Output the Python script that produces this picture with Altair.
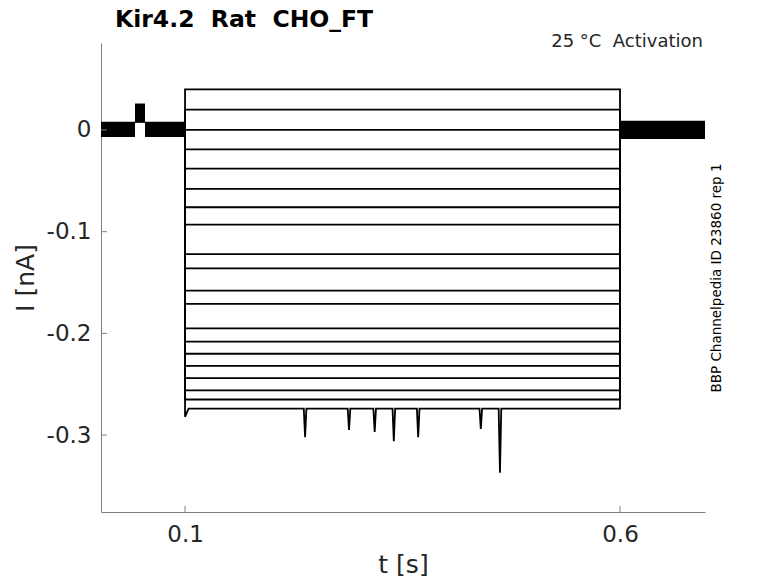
import altair as alt
import pandas as pd

# ---- data ----
T0, T1 = 0.0034, 0.6977
step_on, step_off = 0.1, 0.6
levels = [0.040, 0.020, 0.000, -0.019, -0.038, -0.058, -0.076, -0.093,
          -0.122, -0.136, -0.158, -0.171, -0.195, -0.208, -0.220, -0.232,
          -0.244, -0.256, -0.265, -0.274]
# extra features of the lowest trace (initial transient and dips)
low_t = [0.1, 0.104, 0.238, 0.2885, 0.318, 0.340, 0.368, 0.440, 0.462]
low_v = [-0.282, -0.274, -0.302, -0.295, -0.297, -0.306, -0.302, -0.294, -0.337]
# baseline noise envelope pieces (before and after the step)
band_t0 = [T0, 0.0425, 0.054, 0.6]
band_t1 = [0.0425, 0.054, 0.1, T1]
band_lo = [-0.007, 0.007, -0.007, -0.009]
band_hi = [0.008, 0.026, 0.008, 0.009]
xticks = [0.1, 0.6]
yticks = [0.0, -0.1, -0.2, -0.3]

rows = []
for i, L in enumerate(levels):
    pts = [(step_on, 0.0)]
    if i == len(levels) - 1:
        pts.append((low_t[0], low_v[0]))
        pts.append((low_t[1], L))
        for t, v in zip(low_t[2:], low_v[2:]):
            pts += [(t - 0.0015, L), (t, v), (t + 0.0015, L)]
    else:
        pts.append((step_on, L))
    pts += [(step_off, L), (step_off, 0.0)]
    for k, (t, v) in enumerate(pts):
        rows.append({"trace": i, "k": k, "t": t, "I": v})
traces = pd.DataFrame(rows)
band = pd.DataFrame({"a": band_t0, "b": band_t1, "lo": band_lo, "hi": band_hi})

xs = alt.Scale(domain=[T0, T1], nice=False, zero=False)
ys = alt.Scale(domain=[-0.3756, 0.0855], nice=False, zero=False)
GRAY = "#808080"
FONT = "DejaVu Sans"
NB = "\u00a0"

lines = alt.Chart(traces).mark_line(color="black", strokeWidth=1.8).encode(
    x=alt.X("t:Q", scale=xs,
            axis=alt.Axis(values=xticks, title="t [s]", tickSize=0,
                          labelPadding=11, titlePadding=6, grid=False,
                          format=".1f")),
    y=alt.Y("I:Q", scale=ys,
            axis=alt.Axis(values=yticks, title="I [nA]", tickSize=0,
                          labelPadding=10, titlePadding=8, grid=False,
                          labelExpr="datum.value == 0 ? '0' : replace(format(datum.value, '.1f'), '\u2212', '-')")),
    detail="trace:N",
    order="k:Q",
)

bands = alt.Chart(band).mark_rect(color="black").encode(
    x=alt.X("a:Q", scale=xs), x2="b:Q",
    y=alt.Y("lo:Q", scale=ys), y2="hi:Q",
)

xt = alt.Chart(pd.DataFrame({"v": xticks})).mark_rule(color=GRAY, strokeWidth=1).encode(
    x=alt.X("v:Q", scale=xs), y=alt.value(469), y2=alt.value(463))
yt = alt.Chart(pd.DataFrame({"v": yticks})).mark_rule(color=GRAY, strokeWidth=1).encode(
    y=alt.Y("v:Q", scale=ys), x=alt.value(0), x2=alt.value(6))

ttl = pd.DataFrame({"txt": [f"Kir4.2{NB}{NB}Rat{NB}{NB}CHO_FT"]})
t0 = alt.Chart(ttl).mark_text(align="left", baseline="alphabetic", fontSize=23.5,
                              fontWeight="bold", font=FONT, color="black").encode(
    text="txt:N", x=alt.value(14), y=alt.value(-16))
ann = pd.DataFrame({"txt": [f"25 °C{NB}{NB}Activation"]})
t1 = alt.Chart(ann).mark_text(align="right", baseline="alphabetic", fontSize=18,
                              font=FONT, color="#262626").encode(
    text="txt:N", x=alt.value(602), y=alt.value(4))
ann2 = pd.DataFrame({"txt": ["BBP Channelpedia ID 23860 rep 1"]})
t2 = alt.Chart(ann2).mark_text(align="center", baseline="middle", fontSize=13.5,
                               angle=270, font=FONT, color="black").encode(
    text="txt:N", x=alt.value(616), y=alt.value(235))

chart = alt.layer(bands, lines, xt, yt, t0, t1, t2).properties(
    width=604, height=469,
    autosize=alt.AutoSizeParams(type="none"),
    padding={"left": 93, "top": 35, "right": 65, "bottom": 70},
    background="white",
).configure_view(stroke=None).configure_axis(
    domainColor=GRAY, labelColor="#262626", titleColor="#262626",
    labelFont=FONT, titleFont=FONT, labelFontSize=23, titleFontSize=25,
    titleFontWeight="normal", domainWidth=1,
)

chart.save("out.html", embed_options={"renderer": "svg", "actions": False})
